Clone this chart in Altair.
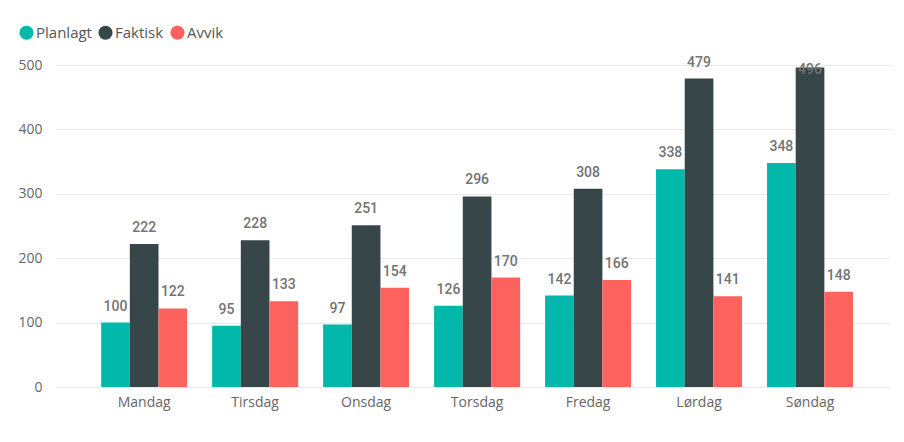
import altair as alt
import pandas as pd

days = ["Mandag", "Tirsdag", "Onsdag", "Torsdag", "Fredag", "Lørdag", "Søndag"]
series = ["Planlagt", "Faktisk", "Avvik"]
planlagt = [100, 95, 97, 126, 142, 338, 348]
faktisk = [222, 228, 251, 296, 308, 479, 496]
avvik = [122, 133, 154, 170, 166, 141, 148]
colors = ["#01B8AA", "#374649", "#FD625E"]

rows = []
for i, d in enumerate(days):
    for s, vals in zip(series, [planlagt, faktisk, avvik]):
        rows.append({"dag": d, "serie": s, "verdi": vals[i]})
df = pd.DataFrame(rows)

base = alt.Chart(df).encode(
    x=alt.X("dag:N", sort=days, title=None,
            scale=alt.Scale(paddingInner=0.225, paddingOuter=0.37, align=0.55),
            axis=alt.Axis(labelAngle=0, domain=False, ticks=False, labelPadding=8,
                          labelFont="Open Sans", labelFontSize=14, labelColor="#666")),
    xOffset=alt.XOffset("serie:N", sort=series, scale=alt.Scale(paddingInner=0, paddingOuter=0)),
)

bars = base.mark_bar().encode(
    y=alt.Y("verdi:Q", title=None,
            scale=alt.Scale(domain=[0, 500], nice=False),
            axis=alt.Axis(values=[0, 100, 200, 300, 400, 500], domain=False, ticks=False,
                          labelPadding=14, labelFont="Open Sans", labelFontSize=14,
                          labelColor="#666", gridColor="#E9E9E9")),
    color=alt.Color("serie:N", sort=series,
                    scale=alt.Scale(domain=series, range=colors),
                    legend=alt.Legend(title=None, orient="none", direction="horizontal",
                                      legendX=-37, legendY=-40, symbolType="circle",
                                      symbolSize=200, symbolStrokeWidth=0, symbolOpacity=1,
                                      labelFont="Open Sans", labelFontSize=15, labelColor="#555",
                                      labelOffset=2, columnPadding=6)),
)

labels = base.transform_calculate(
    pos="datum.verdi > 480 ? 467 : datum.verdi"
).mark_text(baseline="bottom", dy=-9, font="Roboto", fontSize=14, fontWeight=500,
            color="#737373").encode(
    y=alt.Y("pos:Q", scale=alt.Scale(domain=[0, 500], nice=False)),
    text=alt.Text("verdi:Q"),
)

chart = alt.layer(bars, labels).properties(
    width=834, height=322,
    autosize=alt.AutoSizeParams(type="none"),
    padding={"left": 48, "top": 57, "right": 6, "bottom": 40},
).configure_view(stroke=None)

chart.save("out.html", embed_options={"renderer": "svg", "actions": False})
